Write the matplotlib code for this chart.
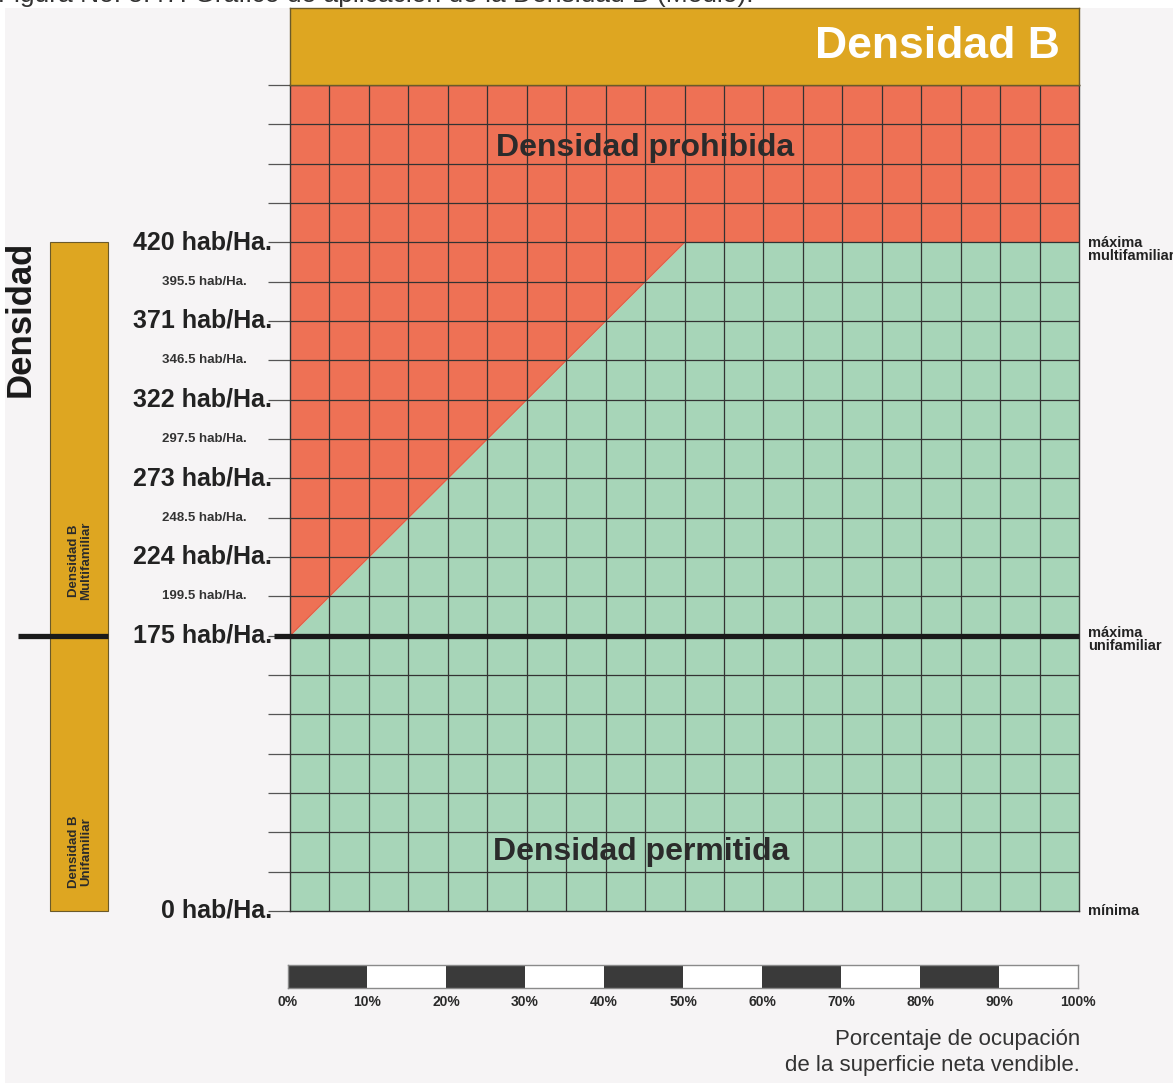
import matplotlib
matplotlib.use('Agg')
from matplotlib import pyplot as plt
from matplotlib.patches import Rectangle

# data
pct_ticks = [0, 10, 20, 30, 40, 50, 60, 70, 80, 90, 100]
pct_labels = ['0%', '10%', '20%', '30%', '40%', '50%', '60%', '70%', '80%', '90%', '100%']
dens_major = [0, 175, 224, 273, 322, 371, 420]
dens_minor = [199.5, 248.5, 297.5, 346.5, 395.5]
limit_x = [0, 50, 100]
limit_dens = [175, 420, 420]
n_cols = 20
n_rows = 21

RED = '#ee7155'
GREEN = '#a7d5b8'
GOLD = '#dea621'
INK = '#2b2b2b'
SANS = ['Liberation Sans', 'DejaVu Sans']


def to_row(d):
    # grid rows are 25 hab/Ha below 175 and 24.5 hab/Ha above it
    if d <= 175:
        return d / 25.0
    return 7 + (d - 175) / 24.5


W, H = 1173, 1083
fig = plt.figure(figsize=(W / 100, H / 100), dpi=100)
fig.patch.set_facecolor('white')
fig.patches.append(Rectangle((5 / W, 0), 1, 1 - 8 / H, transform=fig.transFigure,
                             facecolor='#f6f4f5', edgecolor='none', zorder=-10))

# caption, mostly cut off at the top (as in the original)
fig.text(-2 / W, 1 - 2 / H, 'Figura No. 5.47. Gráfico de aplicación de la Densidad B (Medio).',
         fontsize=19, family=SANS, color='#333333', va='baseline', ha='left')

# main grid
ax = fig.add_axes([290 / W, 1 - 911 / H, 789 / W, 826 / H])
ax.set_xlim(0, 100)
ax.set_ylim(0, n_rows)
lim_rows = [to_row(d) for d in limit_dens]
ax.fill_between(limit_x, 0, lim_rows, color=GREEN, lw=0, zorder=1)
ax.fill_between(limit_x, lim_rows, n_rows, color=RED, lw=0, zorder=1)
ax.plot(limit_x, lim_rows, color='#e0604a', lw=0.8, zorder=2)

for i in range(1, n_cols):
    ax.axvline(i * 100 / n_cols, color='#333333', lw=0.9, zorder=3)
for j in range(1, n_rows):
    ax.axhline(j, color='#333333', lw=0.9, zorder=3)
for s in ax.spines.values():
    s.set_color('#333333')
    s.set_linewidth(1.0)
    s.set_zorder(4)

ax.set_xticks([])
ax.set_yticks(range(n_rows + 1))
ax.set_yticklabels([])
ax.tick_params(axis='y', length=16, width=0.9, color='#555555', direction='out')

yt = ax.get_yaxis_transform()


def axx(px):
    return (px - 290) / 789.0


for d in dens_major:
    ax.text(axx(272), to_row(d), f'{d} hab/Ha.', transform=yt, ha='right', va='center',
            fontsize=18, fontweight='bold', family=SANS, color='#222222')
for d in dens_minor:
    ax.text(axx(247), to_row(d), f'{d} hab/Ha.', transform=yt, ha='right', va='center',
            fontsize=9.5, fontweight='bold', family=SANS, color='#333333')

# thick line at 175 (maximum single-family density)
r175 = to_row(175)
ax.plot([axx(274), 1], [r175, r175], transform=yt, color='#1a1a1a', lw=3.8,
        clip_on=False, zorder=6, solid_capstyle='butt')
ax.plot([axx(18), axx(108)], [r175, r175], transform=yt, color='#1a1a1a', lw=3.8,
        clip_on=False, zorder=6, solid_capstyle='butt')

# left gold bar
ax.add_patch(Rectangle((axx(50), 0), axx(108) - axx(50), to_row(420), transform=yt,
                       facecolor=GOLD, edgecolor='#6b5a2a', lw=0.8, clip_on=False, zorder=5))
ax.text(axx(80), 8.9, 'Densidad B\nMultifamiliar', transform=yt, rotation=90,
        ha='center', va='center', fontsize=9.5, fontweight='bold', family=SANS, color=INK,
        linespacing=1.0, zorder=7)
ax.text(axx(80), 1.5, 'Densidad B\nUnifamiliar', transform=yt, rotation=90,
        ha='center', va='center', fontsize=9.5, fontweight='bold', family=SANS, color=INK,
        linespacing=1.0, zorder=7)
ax.text(axx(20), to_row(420) - 1.95, 'Densidad', transform=yt, rotation=90,
        ha='center', va='center', fontsize=25, fontweight='bold', family=SANS, color='#1a1a1a')

# right side labels
ax.text(1.012, to_row(420) - 0.18, 'máxima\nmultifamiliar', transform=yt, ha='left', va='center',
        fontsize=10.5, fontweight='bold', family=SANS, color='#222222', linespacing=0.85)
ax.text(1.012, to_row(175) - 0.1, 'máxima\nunifamiliar', transform=yt, ha='left', va='center',
        fontsize=10.5, fontweight='bold', family=SANS, color='#222222', linespacing=0.85)
ax.text(1.012, 0, 'mínima', transform=yt, ha='left', va='center',
        fontsize=10.5, fontweight='bold', family=SANS, color='#222222')

ax.text(45, to_row(420) + 2.4, 'Densidad prohibida', ha='center', va='center',
        fontsize=23, fontweight='bold', family=SANS, color=INK, zorder=7)
ax.text(44.5, 1.5, 'Densidad permitida', ha='center', va='center',
        fontsize=23, fontweight='bold', family=SANS, color=INK, zorder=7)

# header bar
head = fig.add_axes([290 / W, 1 - 85 / H, 789 / W, 77 / H])
head.set_facecolor(GOLD)
head.set_xticks([])
head.set_yticks([])
for s in head.spines.values():
    s.set_color('#6b5a2a')
    s.set_linewidth(1.0)
head.text(0.821, 0.5, 'Densidad B', transform=head.transAxes, ha='center', va='center',
          fontsize=32, fontweight='bold', family=SANS, color='white')

# percentage scale bar
sc = fig.add_axes([288 / W, 1 - 988 / H, 790 / W, 23 / H])
sc.set_xlim(0, 100)
sc.set_ylim(0, 1)
seg_left = pct_ticks[:-1]
seg_colors = ['#3a3a3a' if i % 2 == 0 else 'white' for i in range(len(seg_left))]
sc.bar(seg_left, 1, width=10, align='edge', color=seg_colors, edgecolor='none')
for s in sc.spines.values():
    s.set_color('#8a8a8a')
    s.set_linewidth(1.0)
sc.set_yticks([])
sc.set_xticks(pct_ticks)
sc.set_xticklabels(pct_labels, fontsize=10, fontweight='bold', family=SANS, color='#2a2a2a')
sc.tick_params(axis='x', length=0, pad=5)

fig.text(1080 / W, 1 - 1040 / H, 'Porcentaje de ocupación', ha='right', va='center',
         fontsize=16, family=SANS, color='#333333')
fig.text(1080 / W, 1 - 1066 / H, 'de la superficie neta vendible.', ha='right', va='center',
         fontsize=16, family=SANS, color='#333333')

fig.savefig('out.png', dpi=100, facecolor=fig.get_facecolor())
